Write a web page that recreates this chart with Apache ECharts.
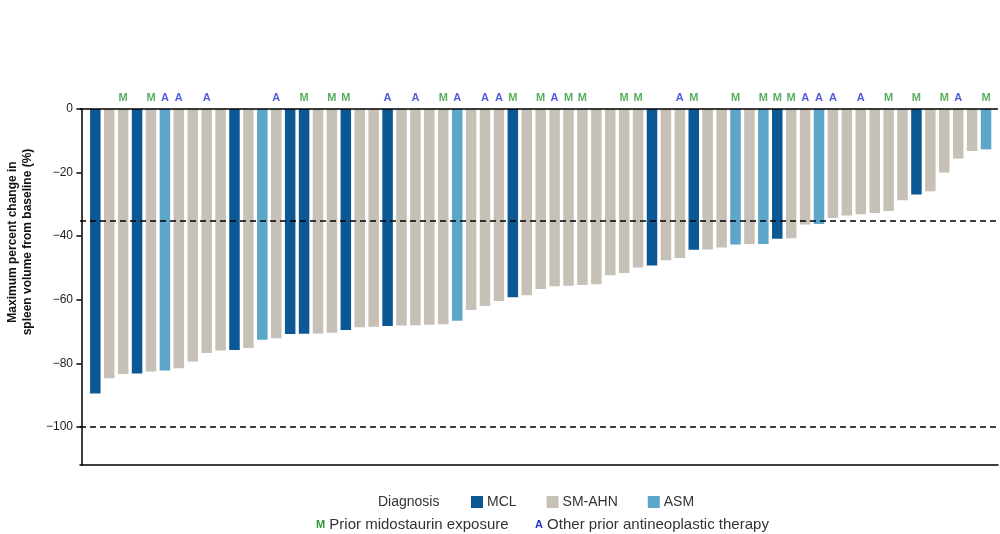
<!DOCTYPE html>
<html>
<head>
<meta charset="utf-8">
<style>
  html, body { margin: 0; padding: 0; background: #fff; }
  #chart { width: 1000px; height: 534px; }
</style>
<script src="https://cdn.jsdelivr.net/npm/echarts@6/dist/echarts.min.js"></script>
</head>
<body>
<div id="chart"></div>
<script>
var chartDom = document.getElementById('chart');
var myChart = echarts.init(chartDom);
var option;

// one entry per patient, sorted from largest reduction
var changes = [-89.5,-84.7,-83.4,-83.2,-82.6,-82.3,-81.6,-79.4,-76.8,-76.0,
               -75.8,-75.2,-72.6,-72.1,-70.8,-70.7,-70.6,-70.4,-69.5,-68.7,
               -68.5,-68.3,-68.1,-68.0,-67.9,-67.7,-66.6,-63.2,-62.0,-60.4,
               -59.2,-58.6,-56.6,-55.8,-55.6,-55.4,-55.1,-52.3,-51.6,-49.9,
               -49.2,-47.6,-46.9,-44.3,-44.2,-43.6,-42.6,-42.5,-42.5,-40.8,
               -40.7,-36.3,-36.2,-34.3,-33.5,-33.1,-32.7,-32.1,-28.7,-26.9,
               -25.9,-20.0,-15.6,-13.2,-12.7];
// diagnosis per patient: 0 = MCL, 1 = SM-AHN, 2 = ASM
var diagnosis = [0,1,1,0,1,2,1,1,1,1,
                 0,1,2,1,0,0,1,1,0,1,
                 1,0,1,1,1,1,2,1,1,1,
                 0,1,1,1,1,1,1,1,1,1,
                 0,1,1,0,1,1,2,1,2,0,
                 1,1,2,1,1,1,1,1,1,0,
                 1,1,1,1,2];
var diagNames = ['MCL', 'SM-AHN', 'ASM'];
var diagColors = ['#0c5894', '#c6c0b7', '#5ba6c9'];
// patient numbers (1-based) with annotations
var priorMido = [3,5,16,18,19,26,31,33,35,36,39,40,44,47,49,50,51,58,60,62,65];
var otherTherapy = [6,7,9,14,22,24,27,29,30,34,43,52,53,54,56,63];
var yTicks = [0,-20,-40,-60,-80,-100];
var refLines = [-35,-100];

var fontName = 'Liberation Sans, Arial, sans-serif';

var barSeries = diagNames.map(function (name, d) {
    var data = changes.map(function (v, i) {
        return diagnosis[i] === d ? [i + 1, v] : [i + 1, '-'];
    });
    return {
        name: name,
        type: 'bar',
        stack: 'all',
        barWidth: 10.5,
        itemStyle: { color: diagColors[d] },
        data: data
    };
});

barSeries[0].markLine = {
    silent: true,
    symbol: 'none',
    label: { show: false },
    lineStyle: { color: '#000', width: 1.5, type: [6, 4] },
    data: refLines.map(function (v) { return { yAxis: v }; }).concat([
        { yAxis: 0, lineStyle: { type: 'solid', width: 1.5, color: '#000' } }
    ])
};

function annoSeries(list, letter, color) {
    return {
        type: 'scatter',
        symbolSize: 0,
        clip: false,
        silent: true,
        data: list.map(function (n) { return [n, 0]; }),
        label: {
            show: true,
            position: 'top',
            distance: 6,
            formatter: letter,
            color: color,
            fontWeight: 'bold',
            fontSize: 11,
            fontFamily: fontName
        }
    };
}

option = {
    backgroundColor: '#fff',
    animation: false,
    textStyle: { fontFamily: fontName },
    grid: {
        left: 80,
        right: 2,
        top: 109,
        bottom: 69
    },
    legend: {
        data: diagNames,
        left: 466,
        top: 490,
        icon: 'rect',
        itemWidth: 12,
        itemHeight: 12,
        itemGap: 30,
        textStyle: { color: '#333', fontSize: 14, padding: [0, 0, 0, -1] }
    },
    xAxis: {
        type: 'value',
        min: -0.1,
        max: 65.86,
        axisLine: { show: true, onZero: false, lineStyle: { color: '#000', width: 1.5 } },
        axisTick: { show: false },
        axisLabel: { show: false },
        splitLine: { show: false }
    },
    yAxis: {
        type: 'value',
        min: -112,
        max: 0,
        axisLine: { show: true, lineStyle: { color: '#000', width: 1.5 } },
        axisTick: {
            show: true,
            length: 5,
            customValues: yTicks,
            lineStyle: { color: '#000', width: 1.5 }
        },
        axisLabel: {
            customValues: yTicks,
            color: '#222',
            fontSize: 12,
            margin: 7,
            formatter: function (v) { return String(v).replace('-', '\u2212'); }
        },
        splitLine: { show: false }
    },
    graphic: [
        {
            type: 'text',
            x: 20,
            y: 242,
            rotation: Math.PI / 2,
            style: {
                text: 'Maximum percent change in\nspleen volume from baseline (%)',
                fill: '#111',
                font: 'bold 12px ' + fontName,
                align: 'center',
                verticalAlign: 'middle',
                lineHeight: 15
            }
        },
        {
            type: 'text',
            x: 378,
            y: 502,
            style: {
                text: 'Diagnosis',
                fill: '#333',
                font: '14px ' + fontName,
                verticalAlign: 'middle'
            }
        },
        {
            type: 'text',
            x: 316,
            y: 525,
            style: {
                text: '{m|M} Prior midostaurin exposure',
                fill: '#333',
                font: '15px ' + fontName,
                verticalAlign: 'middle',
                rich: { m: { fill: '#2f9a35', fontWeight: 'bold', fontSize: 11 } }
            }
        },
        {
            type: 'text',
            x: 535,
            y: 525,
            style: {
                text: '{a|A} Other prior antineoplastic therapy',
                fill: '#333',
                font: '15px ' + fontName,
                verticalAlign: 'middle',
                rich: { a: { fill: '#2233cc', fontWeight: 'bold', fontSize: 11 } }
            }
        }
    ],
    series: barSeries.concat([
        annoSeries(priorMido, 'M', '#2f9a35'),
        annoSeries(otherTherapy, 'A', '#2233cc')
    ])
};

option && myChart.setOption(option);

window.addEventListener('resize', function () {
    myChart.resize();
});
</script>
</body>
</html>
